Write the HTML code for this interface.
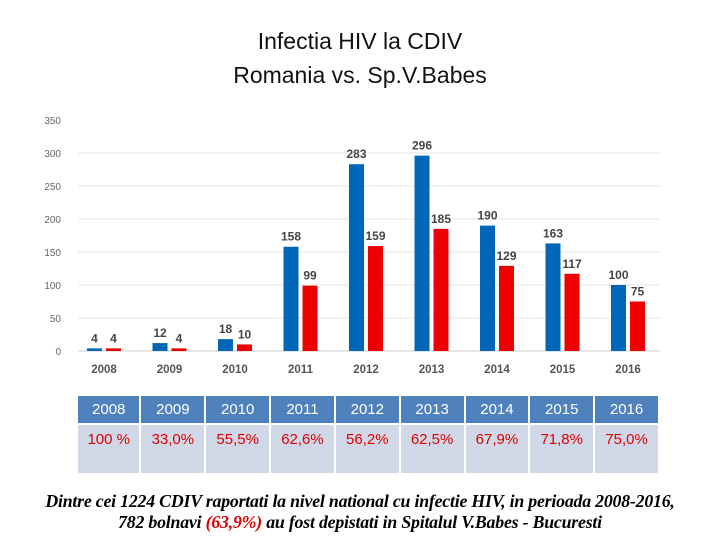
<!DOCTYPE html>
<html><head><meta charset="utf-8"><style>
body{margin:0;width:720px;height:540px;background:#fff;position:relative;overflow:hidden;font-family:"Liberation Sans",sans-serif}
.title{position:absolute;left:0;width:720px;text-align:center;font-size:23px;color:#111}
table{position:absolute;left:76px;top:394px;border-collapse:collapse;width:584px}
td{border:2px solid #fff;text-align:center;width:64px}
.h td{background:#4f81bd;color:#fff;height:25px;font-size:15px}
.b td{background:#d0d8e8;color:#d00;height:41px;font-size:15px;vertical-align:top;padding-top:6px}
.cap{position:absolute;left:0;width:720px;text-align:center;font-family:"Liberation Serif",serif;font-weight:bold;font-style:italic;font-size:17.8px;letter-spacing:-0.2px;line-height:21px;top:491px;white-space:nowrap}
</style></head><body>
<div class="title" style="top:28px">Infectia HIV la CDIV</div>
<div class="title" style="top:62px">Romania vs. Sp.V.Babes</div>
<svg id="chart" width="720" height="390" style="position:absolute;left:0;top:0"></svg>
<table>
<tr class="h"><td>2008</td><td>2009</td><td>2010</td><td>2011</td><td>2012</td><td>2013</td><td>2014</td><td>2015</td><td>2016</td></tr>
<tr class="b"><td>100 %</td><td>33,0%</td><td>55,5%</td><td>62,6%</td><td>56,2%</td><td>62,5%</td><td>67,9%</td><td>71,8%</td><td>75,0%</td></tr>
</table>
<div class="cap">Dintre cei 1224 CDIV raportati la nivel national cu infectie HIV, in perioada 2008-2016,<br>782 bolnavi <span style="color:#d00">(63,9%)</span> au fost depistati in Spitalul V.Babes - Bucuresti</div>
<script>
const categories=["2008","2009","2010","2011","2012","2013","2014","2015","2016"];
const romania=[4,12,18,158,283,296,190,163,100];
const babes=[4,4,10,99,159,185,129,117,75];
const yTicks=[0,50,100,150,200,250,300,350];
const NS="http://www.w3.org/2000/svg";
const svg=document.getElementById('chart');
const y0=351,pxPer=231/350,x0=104,step=65.5,bw=15;
const y=v=>y0-v*pxPer, xc=i=>x0+i*step;
function mk(t,a){const e=document.createElementNS(NS,t);for(const k in a)e.setAttribute(k,a[k]);svg.appendChild(e);return e;}
yTicks.forEach(t=>{
 if(t<=300){const l=mk('line',{x1:78,x2:660,y1:y(t),y2:y(t),stroke:t==0?'#ccc':'#e4e4e4','stroke-width':1});
 
 }
 const tx=mk('text',{x:61,y:y(t)+4,'text-anchor':'end','font-size':10,fill:'#666','font-family':'Liberation Sans'});
 tx.textContent=t;
 
 
});
categories.forEach((c,i)=>{
 const cx=xc(i);
 const t=mk('text',{x:cx,y:373,'text-anchor':'middle','font-size':11.5,'font-weight':'bold',fill:'#555','font-family':'Liberation Sans'});
 t.textContent=c;
 
 
 [[romania,'#0066b8',-bw-2],[babes,'#ee0000',2]].forEach(([arr,col,off],s)=>{
  const v=arr[i];
  const r=mk('rect',{x:cx+off,y:y(v),width:bw,height:v*pxPer,fill:col});
  
  
  const l=mk('text',{x:cx+off+bw/2,y:y(v)-6,'text-anchor':'middle','font-size':12,'font-weight':'bold',fill:'#444','font-family':'Liberation Sans'});
  l.textContent=v;
  
  
 });
});
</script>
</body></html>
